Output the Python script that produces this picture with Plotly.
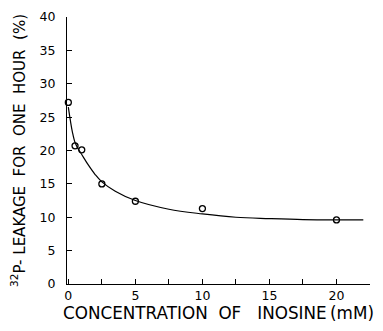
import plotly.graph_objects as go

# measured points
conc_mM = [0, 0.5, 1, 2.5, 5, 10, 20]
leakage_pct = [27.2, 20.7, 20.1, 15.0, 12.4, 11.3, 9.6]

# fitted curve
curve_x = [0, 0.15, 0.3, 0.5, 0.75, 1, 1.5, 2, 2.5, 3.5, 5, 7.5, 10, 12.5, 15, 17.5, 20, 22]
curve_y = [26.5, 24.5, 22.8, 21.2, 20.2, 19.4, 17.8, 16.4, 15.3, 13.9, 12.5, 11.2, 10.5, 10.0, 9.8, 9.65, 9.6, 9.6]

x_ticks = [0, 5, 10, 15, 20]
y_ticks = [0, 5, 10, 15, 20, 25, 30, 35, 40]

x_title = "CONCENTRATION\u00a0 OF\u00a0\u00a0 INOSINE\u2009(mM)"
y_title = "<sup>32</sup>P- LEAKAGE\u00a0 FOR\u00a0 ONE\u00a0 HOUR\u00a0 (%)"

font = dict(family="DejaVu Sans", size=12.5, color="black")
x_title_font = dict(family="DejaVu Sans", size=16.8, color="black")
y_title_font = dict(family="DejaVu Sans", size=15, color="black")

fig = go.Figure()
fig.add_trace(go.Scatter(x=curve_x, y=curve_y, mode="lines",
                         line=dict(color="black", width=1.2, shape="spline", smoothing=1.0),
                         hoverinfo="skip", showlegend=False))
fig.add_trace(go.Scatter(x=conc_mM, y=leakage_pct, mode="markers",
                         marker=dict(symbol="circle-open", size=6, color="black",
                                     line=dict(width=1.3, color="black")),
                         showlegend=False, cliponaxis=False))

# page body has an 8px margin, so the figure is 8px smaller and margins shifted
fig.update_layout(
    width=375, height=323,
    margin=dict(l=59, r=13, t=9, b=47),
    paper_bgcolor="white", plot_bgcolor="white",
    font=font,
    xaxis=dict(range=[-0.1, 22.5], tickvals=x_ticks, ticktext=[str(v) for v in x_ticks],
               showline=True, linecolor="black", linewidth=1.3,
               ticks="inside", ticklen=5, tickcolor="black", tickwidth=1.3,
               minor=dict(dtick=2.5, tick0=0, ticks="inside", ticklen=5, tickcolor="black", tickwidth=1.3),
               showgrid=False, zeroline=False, automargin=False,
               title=dict(text=x_title, font=x_title_font, standoff=1),
               tickfont=font),
    yaxis=dict(range=[0, 40], tickvals=y_ticks,
               showline=True, linecolor="black", linewidth=1.3,
               ticks="inside", ticklen=5, tickcolor="black", tickwidth=1.3,
               ticklabelstandoff=8,
               showgrid=False, zeroline=False, automargin=False,
               title=dict(text=y_title, font=y_title_font, standoff=10),
               tickfont=font),
)

fig.write_html("out.html")
